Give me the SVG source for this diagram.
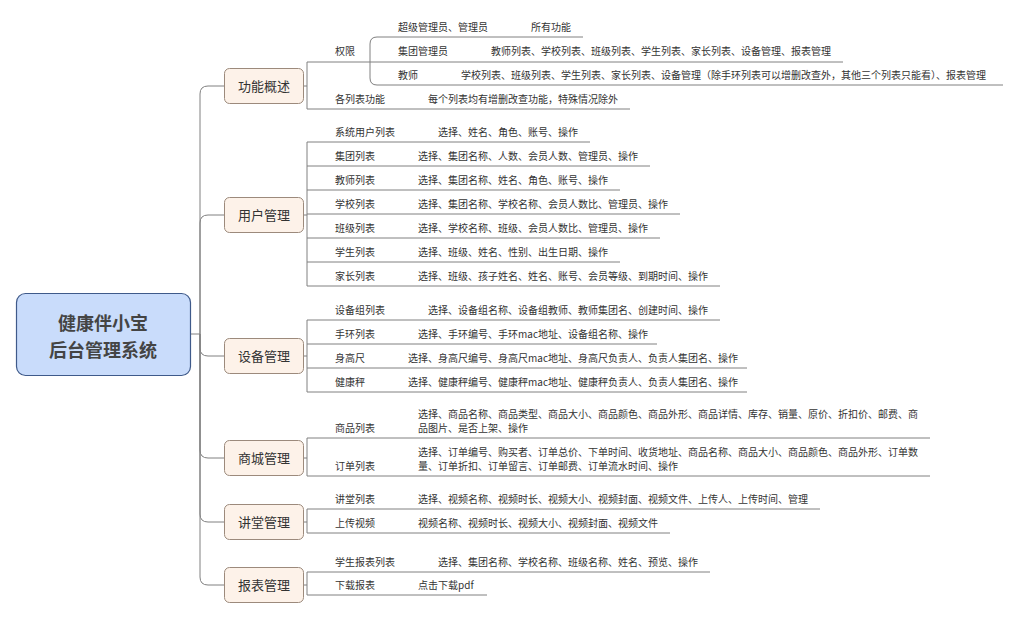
<svg xmlns="http://www.w3.org/2000/svg" width="1019" height="618" viewBox="0 0 1019 618">
<style>
text{font-family:"Noto Sans CJK SC","Noto Sans",sans-serif;fill:#333}
.s{font-size:10px}
.b{font-size:13px;text-anchor:middle}
.r{font-size:18px;font-weight:bold;text-anchor:middle;fill:#444}
.ln{fill:none;stroke:#808080;stroke-width:1}
.box{fill:#fdf2e9;stroke:#9c8a7c;stroke-width:1}
.root{fill:#c9dcfb;stroke:#3f5a8a;stroke-width:1.2}
</style>
<rect width="1019" height="618" fill="#fff"/>
<g id="connectors" class="ln">
<path d="M190,334H200"/>
<path d="M200,334V94Q200,86 208,86H224"/>
<path d="M200,334V223Q200,215 208,215H224"/>
<path d="M200,334V348Q200,356 208,356H224"/>
<path d="M200,334V450Q200,458 208,458H224"/>
<path d="M200,334V514Q200,522 208,522H224"/>
<path d="M200,334V577Q200,585 208,585H224"/>
<path d="M304,86H307M307,62V109"/>
<path d="M307,62H370M307,109H630"/>
<path d="M583,37H377Q370,37 370,44V78Q370,85 377,85H1003M370,62H843"/>
<path d="M304,215H307M307,142V286"/>
<path d="M307,142H590M307,166H650M307,190H620M307,214H680M307,238H660M307,262H620M307,286H720"/>
<path d="M304,356H307M307,320V392"/>
<path d="M307,320H720M307,344H657M307,368H747M307,392H747"/>
<path d="M304,458H307M307,438V476"/>
<path d="M307,438H930M307,476H930"/>
<path d="M304,522H307M307,509V533"/>
<path d="M307,509H820M307,533H670"/>
<path d="M304,585H307M307,572V595"/>
<path d="M307,572H710M307,595H487"/>
</g>
<g id="root">
<rect class="root" x="16.5" y="293.5" width="174" height="82" rx="9"/>
<text class="r" x="103" y="329.5">健康伴小宝</text>
<text class="r" x="103" y="356.5">后台管理系统</text>
</g>
<g id="b1">
<rect class="box" x="224.5" y="68.5" width="79" height="35" rx="5"/>
<text class="b" x="264" y="90.5">功能概述</text>
</g>
<g id="b1-perm">
<text class="s" x="335" y="55">权限</text>
<text class="s" x="398" y="30.5">超级管理员、管理员</text>
<text class="s" x="531" y="30.5">所有功能</text>
<text class="s" x="398" y="55">集团管理员</text>
<text class="s" x="491" y="55">教师列表、学校列表、班级列表、学生列表、家长列表、设备管理、报表管理</text>
<text class="s" x="398" y="78.5">教师</text>
<text class="s" x="461" y="78.5">学校列表、班级列表、学生列表、家长列表、设备管理（除手环列表可以增删改查外，其他三个列表只能看）、报表管理</text>
<text class="s" x="335" y="102.5">各列表功能</text>
<text class="s" x="428" y="102.5">每个列表均有增删改查功能，特殊情况除外</text>
</g>
<g id="b2">
<rect class="box" x="224.5" y="197.5" width="79" height="35" rx="5"/>
<text class="b" x="264" y="219.5">用户管理</text>
</g>
<g id="b2-items">
<text class="s" x="335" y="135.5">系统用户列表</text>
<text class="s" x="438" y="135.5">选择、姓名、角色、账号、操作</text>
<text class="s" x="335" y="159.5">集团列表</text>
<text class="s" x="418" y="159.5">选择、集团名称、人数、会员人数、管理员、操作</text>
<text class="s" x="335" y="183.5">教师列表</text>
<text class="s" x="418" y="183.5">选择、集团名称、姓名、角色、账号、操作</text>
<text class="s" x="335" y="207.5">学校列表</text>
<text class="s" x="418" y="207.5">选择、集团名称、学校名称、会员人数比、管理员、操作</text>
<text class="s" x="335" y="231.5">班级列表</text>
<text class="s" x="418" y="231.5">选择、学校名称、班级、会员人数比、管理员、操作</text>
<text class="s" x="335" y="255.5">学生列表</text>
<text class="s" x="418" y="255.5">选择、班级、姓名、性别、出生日期、操作</text>
<text class="s" x="335" y="279.5">家长列表</text>
<text class="s" x="418" y="279.5">选择、班级、孩子姓名、姓名、账号、会员等级、到期时间、操作</text>
</g>
<g id="b3">
<rect class="box" x="224.5" y="338.5" width="79" height="35" rx="5"/>
<text class="b" x="264" y="360.5">设备管理</text>
</g>
<g id="b3-items">
<text class="s" x="335" y="313.5">设备组列表</text>
<text class="s" x="428" y="313.5">选择、设备组名称、设备组教师、教师集团名、创建时间、操作</text>
<text class="s" x="335" y="337.5">手环列表</text>
<text class="s" x="418" y="337.5">选择、手环编号、手环mac地址、设备组名称、操作</text>
<text class="s" x="335" y="361.5">身高尺</text>
<text class="s" x="408" y="361.5">选择、身高尺编号、身高尺mac地址、身高尺负责人、负责人集团名、操作</text>
<text class="s" x="335" y="385.5">健康秤</text>
<text class="s" x="408" y="385.5">选择、健康秤编号、健康秤mac地址、健康秤负责人、负责人集团名、操作</text>
</g>
<g id="b4">
<rect class="box" x="224.5" y="440.5" width="79" height="35" rx="5"/>
<text class="b" x="264" y="462.5">商城管理</text>
</g>
<g id="b4-items">
<text class="s" x="335" y="431.5">商品列表</text>
<text class="s" x="418" y="417.5">选择、商品名称、商品类型、商品大小、商品颜色、商品外形、商品详情、库存、销量、原价、折扣价、邮费、商</text>
<text class="s" x="418" y="431.5">品图片、是否上架、操作</text>
<text class="s" x="335" y="469.5">订单列表</text>
<text class="s" x="418" y="455.5">选择、订单编号、购买者、订单总价、下单时间、收货地址、商品名称、商品大小、商品颜色、商品外形、订单数</text>
<text class="s" x="418" y="469.5">量、订单折扣、订单留言、订单邮费、订单流水时间、操作</text>
</g>
<g id="b5">
<rect class="box" x="224.5" y="504.5" width="79" height="35" rx="5"/>
<text class="b" x="264" y="526.5">讲堂管理</text>
</g>
<g id="b5-items">
<text class="s" x="335" y="502.5">讲堂列表</text>
<text class="s" x="418" y="502.5">选择、视频名称、视频时长、视频大小、视频封面、视频文件、上传人、上传时间、管理</text>
<text class="s" x="335" y="526.5">上传视频</text>
<text class="s" x="418" y="526.5">视频名称、视频时长、视频大小、视频封面、视频文件</text>
</g>
<g id="b6">
<rect class="box" x="224.5" y="567.5" width="79" height="35" rx="5"/>
<text class="b" x="264" y="589.5">报表管理</text>
</g>
<g id="b6-items">
<text class="s" x="335" y="565.5">学生报表列表</text>
<text class="s" x="438" y="565.5">选择、集团名称、学校名称、班级名称、姓名、预览、操作</text>
<text class="s" x="335" y="588.5">下载报表</text>
<text class="s" x="418" y="588.5">点击下载pdf</text>
</g>
</svg>
